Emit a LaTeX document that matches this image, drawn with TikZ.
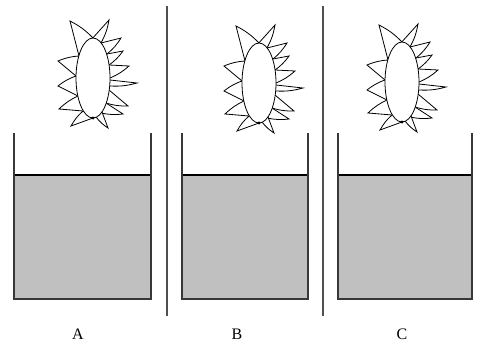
\documentclass[tikz,border=0pt]{standalone}
\usepackage{fontspec}
\setmainfont{Liberation Serif}
\usetikzlibrary{positioning}
\definecolor{wall}{HTML}{383838}
\definecolor{water}{HTML}{C0C0C0}
\definecolor{divider}{HTML}{505050}
% spiky seed pod, drawn round its centre (units are pixels, y down)
\tikzset{
  flower/.pic={
    \foreach \ax/\ay/\tx/\ty/\bx/\by in {
      -14/-22/-23/-57/0/-40, -2/-38/16/-58/8/-35, 8/-35/28/-40/14/-24,
      14/-24/30/-27/16/-13, 16/-13/36/-12/17/0, 17/2/44/5/17/8,
      16/12/35/28/13/25, 13/25/30/36/8/35, 9/34/15/50/3/39,
      0/40/-22/48/-10/33, -10/33/-34/31/-15/18, -15/18/-35/8/-17/-2,
      -17/-2/-35/-17/-14/-22}
      \draw[petal] (\ax,\ay) -- (\tx,\ty) to[bend left=9] (\bx,\by);
    \draw[petal] (0,0) ellipse[x radius=17,y radius=40];
    \fill (0,40) circle[radius=1.6];
  }
}

\begin{document}
\begin{tikzpicture}[x=1pt,y=-1pt,
  petal/.style={line width=0.8pt,line join=miter,fill=white},
  jar/.style={draw=wall,line width=1.6pt},
  lbl/.style={font=\fontsize{16}{18}\selectfont,inner sep=0pt}]
\useasboundingbox (0,0) rectangle (478,347);
% three beakers with water and a pod above each
\foreach \l/\r/\name/\px/\py/\lx in {14/151/A/93/78/78, 182/308/B/259/83/237, 338/472/C/402/82/402}{
  \fill[water] (\l,175) rectangle (\r,299);
  \draw[black,line width=1.2pt] (\l,175) -- (\r,175);
  \draw[jar] (\l,133) |- (\r,299) -- (\r,133);
  \pic at (\px,\py) {flower};
  \node[lbl] (lbl\name) at (\lx,334) {\name};
}
% separators
\draw[divider,line width=1.6pt] (167,6) -- (167,316);
\draw[divider,line width=1.6pt] (323,6) -- (323,316);
\end{tikzpicture}
\end{document}
